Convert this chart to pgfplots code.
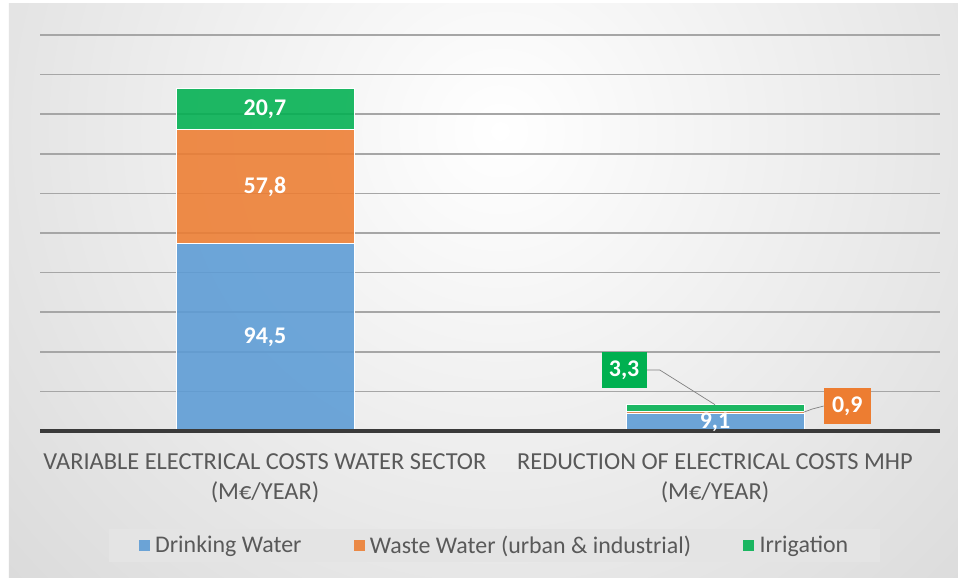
\documentclass[border=0pt]{standalone}
\usepackage{fontspec}
\setmainfont{Carlito}
\usepackage{pgfplots}
\pgfplotsset{compat=1.18}
\usetikzlibrary{calc}

\definecolor{cBlue}{HTML}{5B9BD5}
\definecolor{cOrange}{HTML}{ED7D31}
\definecolor{cGreen}{HTML}{00B050}
\definecolor{cGrid}{HTML}{A6A6A6}
\definecolor{cText}{HTML}{595959}
\definecolor{cBase}{HTML}{3A3A3A}
\definecolor{cBg}{HTML}{C6C6C6}
\definecolor{cLeg}{HTML}{E4E4E4}

\tikzset{lab/.style={text=white, font=\fontsize{24}{28}\selectfont\bfseries}}

\begin{document}
\begin{tikzpicture}
% background (pixel (px,py) -> (px-40, 431-py))
\fill[white] (-40bp,-147bp) rectangle (918bp,431bp);
\begin{scope}
\clip (-31bp,-147bp) rectangle (918bp,427bp);
\shade[inner color=white, outer color=cBg] (460bp,300bp) circle (1050bp);
\end{scope}

\begin{axis}[
    scale only axis,
    width=900bp, height=396bp,
    ybar stacked,
    bar width=178bp,
    xmin=-0.5, xmax=1.5,
    ymin=0, ymax=200,
    ytick={0,20,...,200},
    yticklabels={},
    ymajorgrids=true,
    grid style={cGrid, line width=1.5bp},
    major tick length=0pt,
    axis line style={draw=none},
    xtick={0,1},
    xticklabels={{VARIABLE ELECTRICAL COSTS WATER SECTOR\\(M€/YEAR)},
                 {REDUCTION OF ELECTRICAL COSTS MHP\\(M€/YEAR)}},
    xticklabel style={align=center, text=cText, font=\fontsize{24.5}{30}\selectfont, yshift=-19bp},
    every axis plot/.append style={draw=white, line width=0.8bp, fill opacity=0.88},
    legend style={at={(0.505,-0.288)}, anchor=center, fill=cLeg, draw=none,
        font=\fontsize{24}{28}\selectfont, text=cText,
        inner xsep=30bp, inner ysep=5bp},
    legend columns=3,
    legend cell align=left,
    /tikz/every even column/.append style={column sep=50bp},
    legend image code/.code={\fill[#1, draw=none] (0bp,-5.5bp) rectangle (11bp,5.5bp);
        \path (14bp,0);},
]
\addplot[fill=cBlue] coordinates {(0,94.5) (1,9.1)};
\addplot[fill=cOrange] coordinates {(0,57.8) (1,0.9)};
\addplot[fill=cGreen] coordinates {(0,20.7) (1,3.3)};
\legend{Drinking Water, Waste Water (urban \& industrial), Irrigation}

\coordinate (l1) at (axis cs:0,47.25);
\coordinate (l2) at (axis cs:0,123.4);
\coordinate (l3) at (axis cs:0,162.65);
\coordinate (l4) at (axis cs:1,4.3);
\coordinate (gpos) at (axis cs:0.798,30.8);
\coordinate (gtip) at (axis cs:1,13.3);
\coordinate (opos) at (axis cs:1.294,12.6);
\coordinate (otip) at (axis cs:1,9.55);
\coordinate (b0) at (axis cs:-0.5,0);
\coordinate (b1) at (axis cs:1.5,0);
\end{axis}
% baseline
\draw[cBase, line width=3bp] (b0) -- (b1);
% data labels
\node[lab] at (l1) {94,5};
\node[lab] at (l2) {57,8};
\node[lab] at (l3) {20,7};
\node[lab] at (l4) {9,1};
\node[lab, fill=cGreen, minimum width=45bp, minimum height=36bp, inner sep=0pt] (g) at (gpos) {3,3};
\draw[gray, line width=0.7bp] (g.east) -- ++(13bp,0) -- (gtip);
\node[lab, fill=cOrange, minimum width=47bp, minimum height=36bp, inner sep=0pt] (o) at (opos) {0,9};
\draw[gray, line width=0.7bp] ($(otip)+(89bp,0)$) -- ++(8bp,3bp) -- (o.west);
\end{tikzpicture}
\end{document}
